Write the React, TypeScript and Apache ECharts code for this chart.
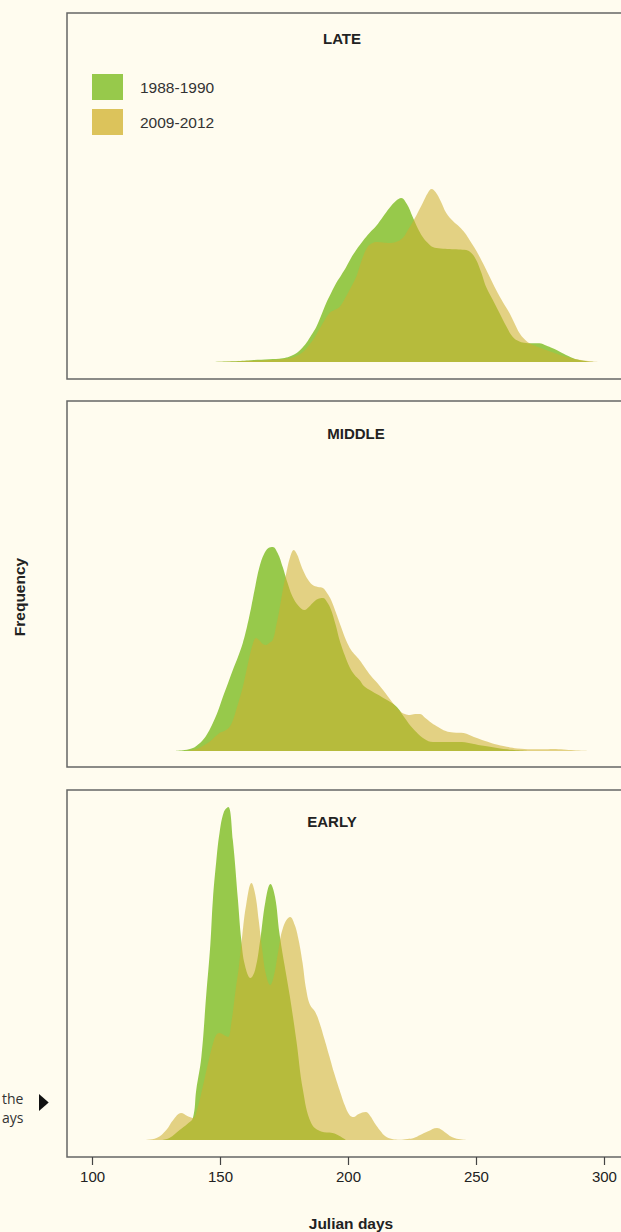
import { useEffect, useRef } from "react";
import * as echarts from "echarts";

type Pt = [number, number];

// Kernel-density curves of flowering date (Julian day, density x 1000)
const SERIES_NAMES = ["1988-1990", "2009-2012"];
const PANEL_TITLES = ["LATE", "MIDDLE", "EARLY"];
const DAY_TICKS = [100, 150, 200, 250, 300];

const late1988: Pt[] = [
  [146, 0], [155, 0.08], [162, 0.18], [169, 0.27], [174.3, 0.37], [177, 0.55], [179.6, 0.87],
  [181.5, 1.3], [183.5, 1.9], [185.5, 2.7], [187.4, 3.5], [189.4, 4.7], [191.3, 5.9], [193.2, 6.9],
  [195.2, 7.9], [197.2, 8.7], [199.1, 9.5], [201, 10.4], [203, 11.2], [205.6, 12.1], [208.2, 12.9],
  [210.8, 13.6], [213.4, 14.5], [216, 15.4], [218.5, 16.1], [220.6, 16.4], [222.8, 15.8],
  [225.1, 14.5], [227, 13.4], [229, 12.5], [231, 11.9], [232.9, 11.5], [236, 11.35], [239.5, 11.3],
  [243, 11.25], [246, 11.2], [248, 10.9], [249.9, 10.2], [251.8, 9.0], [253.8, 7.5], [256.4, 6.2],
  [259, 4.9], [261.6, 3.6], [264.2, 2.5], [266.8, 2.05], [269.4, 1.9], [272, 1.87], [274.6, 1.87],
  [277.2, 1.65], [279.8, 1.37], [282.4, 1.05], [285, 0.7], [287.6, 0.4], [290.2, 0.2], [293.5, 0.06],
  [297, 0],
];

const late2009: Pt[] = [
  [146, 0], [158, 0.08], [169, 0.2], [174, 0.28], [177, 0.37], [180, 0.65], [182.2, 1.0], [184, 1.5],
  [186.1, 2.2], [188, 3.0], [190, 3.9], [192.6, 4.9], [194.5, 5.2], [196.5, 5.5], [198.5, 6.3],
  [200.4, 7.2], [203, 8.5], [204.3, 9.5], [205.6, 10.5], [207, 11.3], [208.2, 11.7], [210.8, 12.0],
  [213.4, 11.95], [216, 11.9], [218.5, 12.0], [221.2, 12.4], [223, 13.1], [225.1, 14.0], [227, 14.9],
  [229, 15.9], [231, 16.9], [232.5, 17.3], [234, 17.0], [236, 16.1], [238.2, 14.9], [240.8, 14.1],
  [243.4, 13.5], [245.5, 12.9], [247.3, 12.2], [250, 11.1], [252.5, 9.9], [255, 8.6], [257.7, 7.2],
  [260.3, 6.0], [262.9, 4.9], [265, 3.8], [266.8, 2.9], [268.7, 2.3], [270.7, 1.87], [274, 1.5],
  [277.2, 1.2], [281, 0.85], [285, 0.53], [289, 0.28], [292.8, 0.13], [298, 0],
];

const middle1988: Pt[] = [
  [132, 0], [136, 0.1], [139.2, 0.3], [141, 0.6], [143.1, 1.1], [145, 1.8], [147, 2.8], [149, 4.0],
  [150.9, 5.4], [152.8, 6.7], [154.8, 8.1], [156.8, 9.4], [158.7, 10.8], [160.4, 12.5], [162, 14.4],
  [163.6, 16.5], [165.2, 18.4], [167, 19.7], [168.7, 20.3], [170.4, 20.4], [172.3, 19.8],
  [174.3, 18.4], [176.2, 16.8], [178.2, 15.4], [180.5, 14.5], [182.8, 14.1], [184.5, 14.4], [186, 14.8],
  [188, 15.2], [190, 15.3], [191.6, 14.9], [193.2, 14.1], [195, 12.6], [196.5, 11.1], [198.5, 9.6],
  [200.4, 8.4], [202.4, 7.6], [204.3, 7.1], [206, 6.5], [209, 6.0], [213, 5.4], [218.5, 4.5],
  [222, 3.3], [225, 2.3], [229.7, 1.2], [233, 0.9], [243, 0.9], [252, 0.55], [262, 0.17], [272, 0],
];

const middle2009: Pt[] = [
  [136.6, 0], [140.5, 0.2], [143, 0.5], [145.7, 0.93], [149.6, 1.8], [151.5, 2.0], [153.5, 2.4],
  [155, 3.2], [156.1, 4.1], [157.4, 5.2], [158.7, 6.4], [160, 7.9], [161.3, 9.4], [162.6, 10.7],
  [163.9, 11.3], [165, 11.1], [166.5, 10.7], [167.8, 10.6], [169, 10.8], [170.4, 11.1], [171.8, 12.6],
  [173, 14.1], [174.4, 16.2], [175.7, 17.8], [177.2, 19.4], [178.6, 20.1], [180, 19.6], [181, 18.9],
  [182.2, 18.1], [184, 17.2], [186, 16.6], [188, 16.4], [190, 16.3], [191.6, 15.8], [193.2, 15.1],
  [195, 13.9], [197.1, 12.4], [199, 11.1], [201, 10.1], [202.6, 9.6], [204.3, 9.1], [206.5, 8.3],
  [208.8, 7.5], [211.6, 6.7], [214.4, 5.8], [217, 4.9], [220, 4.0], [222, 3.7], [224, 3.6],
  [226, 3.7], [228, 3.7], [230, 3.3], [232.5, 2.8], [235, 2.4], [238, 2.0], [241, 1.85], [245, 1.8],
  [249, 1.4], [253.4, 1.0], [257, 0.7], [261.8, 0.43], [266, 0.25], [271.5, 0.17], [276, 0.17],
  [280, 0.2], [284, 0.15], [288, 0.07], [294, 0],
];

const early1988: Pt[] = [
  [127, 0], [130, 0.2], [134, 1.0], [137, 1.6], [139.2, 2.2], [140.5, 5.0], [142.5, 8.3],
  [144.4, 14.5], [146, 19.5], [147, 24.0], [148.3, 27.8], [149.6, 30.7], [151.3, 32.8], [153, 33.3],
  [154.8, 30.0], [156.8, 24.0], [158.1, 20.0], [159.5, 17.5], [161.7, 16.2], [163.5, 17.0],
  [165.5, 20.0], [167.5, 23.8], [169.5, 25.6], [171.3, 24.3], [173, 20.7], [175, 17.5], [177, 14.5],
  [179.6, 10.0], [182.2, 5.0], [185.4, 1.7], [189.3, 0.85], [193.8, 0.7], [196.5, 0.4], [199, 0],
];

const early2009: Pt[] = [
  [119.5, 0], [125, 0.2], [128.8, 1.0], [131.5, 2.0], [134.6, 2.7], [137, 2.4], [139.2, 2.2],
  [141, 3.2], [142.5, 4.7], [144, 6.4], [145.7, 8.3], [147, 9.6], [148.3, 10.5], [149.6, 10.7],
  [151.3, 10.5], [152.9, 10.3], [154.2, 11.7], [155.9, 15.0], [157.2, 17.4], [158.5, 20.5],
  [160, 23.5], [162.1, 25.7], [163.6, 24.5], [164.9, 22.0], [166.3, 19.0], [167.7, 16.6],
  [169.4, 15.5], [171, 16.6], [172.5, 18.8], [174.5, 21.3], [177.2, 22.3], [179, 21.5], [180.5, 20.0],
  [182, 17.8], [183.5, 15.0], [185, 13.5], [187, 12.8], [188.7, 11.7], [190.7, 10.0], [192.6, 8.3],
  [194.5, 6.6], [196.5, 5.0], [198.5, 3.5], [200.4, 2.5], [202, 2.3], [204, 2.6], [206.7, 2.8],
  [208.5, 2.4], [210.2, 1.7], [212.5, 0.9], [214.4, 0.37], [217, 0.1], [220, 0.03], [223, 0.1],
  [225.5, 0.2], [228, 0.5], [231.1, 0.87], [234.6, 1.2], [236.5, 1.0], [238.1, 0.7], [240, 0.35],
  [242.3, 0.13], [246.4, 0],
];

const PANEL_DATA: [Pt[], Pt[]][] = [
  [late1988, late2009],
  [middle1988, middle2009],
  [early1988, early2009],
];

// Layout and styling
const BG = "#FFFCEF";
const GREEN = "#97C94B";
const TAN = "#CEAF32";
const TAN_LEGEND = "#DCC35B";
const FONT = "'Liberation Sans', Arial, sans-serif";
const VIEW_W = 621;
const VIEW_H = 1232;
const CANVAS_W = 660; // wider than the view so the panels run off its right edge
const PANEL_BOXES = [
  { top: 13, height: 366, yMin: -1.7, yMax: 34.9, titleX: 342, titleY: 38 },
  { top: 401, height: 366, yMin: -1.6, yMax: 35.0, titleX: 356, titleY: 433 },
  { top: 790, height: 367, yMin: -1.7, yMax: 35.0, titleX: 332, titleY: 821 },
];

function buildOption(): echarts.EChartsOption {
  const series: any[] = [];
  PANEL_DATA.forEach(([older, newer], i) => {
    series.push({
      type: "line",
      name: SERIES_NAMES[0],
      xAxisIndex: i,
      yAxisIndex: i,
      data: older,
      smooth: 0.4,
      symbol: "none",
      showSymbol: false,
      silent: true,
      itemStyle: { color: GREEN },
      lineStyle: { width: 0, opacity: 0 },
      areaStyle: { color: GREEN, opacity: 1 },
      z: 2,
    });
    series.push({
      type: "line",
      name: SERIES_NAMES[1],
      xAxisIndex: i,
      yAxisIndex: i,
      data: newer,
      smooth: 0.4,
      symbol: "none",
      showSymbol: false,
      silent: true,
      itemStyle: { color: TAN_LEGEND },
      lineStyle: { width: 0, opacity: 0 },
      areaStyle: { color: TAN, opacity: 0.57 },
      z: 3,
    });
  });

  const titleTexts = PANEL_TITLES.map((t, i) => ({
    type: "text",
    x: PANEL_BOXES[i].titleX,
    y: PANEL_BOXES[i].titleY,
    style: {
      text: t,
      fontSize: 15,
      fontWeight: "bold",
      fontFamily: FONT,
      fill: "#222",
      align: "center",
      verticalAlign: "middle",
    },
  }));

  return {
    animation: false,
    backgroundColor: BG,
    grid: PANEL_BOXES.map((p) => ({
      left: 67,
      top: p.top,
      width: 563,
      height: p.height,
      show: true,
      borderColor: "#666",
      borderWidth: 1.5,
      backgroundColor: "transparent",
    })),
    xAxis: PANEL_BOXES.map((_, i) => ({
      type: "value",
      gridIndex: i,
      min: 90,
      max: 310,
      show: i === 2,
      position: "bottom",
      axisLine: { show: false, onZero: false },
      splitLine: { show: false },
      axisTick: {
        show: true,
        inside: false,
        customValues: DAY_TICKS,
        length: 8,
        lineStyle: { color: "#444", width: 1.2 },
      },
      axisLabel: {
        customValues: DAY_TICKS,
        fontSize: 15,
        color: "#222",
        margin: 12,
        fontFamily: FONT,
      },
    })),
    yAxis: PANEL_BOXES.map((p, i) => ({
      type: "value",
      gridIndex: i,
      min: p.yMin,
      max: p.yMax,
      show: false,
      splitLine: { show: false },
    })),
    legend: {
      orient: "vertical",
      left: 92,
      top: 74,
      padding: 0,
      itemWidth: 31,
      itemHeight: 26,
      itemGap: 9,
      icon: "rect",
      selectedMode: false,
      itemStyle: { borderWidth: 0 },
      textStyle: {
        fontSize: 15.5,
        color: "#333",
        fontFamily: FONT,
        padding: [0, 0, 0, 12],
      },
      data: [
        { name: SERIES_NAMES[0], itemStyle: { color: GREEN } },
        { name: SERIES_NAMES[1], itemStyle: { color: TAN_LEGEND } },
      ],
    },
    series,
    graphic: [
      ...titleTexts,
      {
        type: "text",
        x: 351,
        y: 1223,
        style: {
          text: "Julian days",
          fontSize: 15.5,
          fontWeight: "bold",
          fontFamily: FONT,
          fill: "#222",
          align: "center",
          verticalAlign: "middle",
        },
      },
      {
        type: "text",
        x: 19,
        y: 597,
        rotation: Math.PI / 2,
        style: {
          text: "Frequency",
          fontSize: 15.5,
          fontWeight: "bold",
          fontFamily: FONT,
          fill: "#222",
          align: "center",
          verticalAlign: "middle",
        },
      },
      {
        type: "text",
        x: 2,
        y: 1098,
        style: {
          text: "the",
          fontSize: 14,
          fontFamily: "'Open Sans', sans-serif",
          fill: "#333",
          align: "left",
          verticalAlign: "middle",
        },
      },
      {
        type: "text",
        x: 2,
        y: 1117,
        style: {
          text: "ays",
          fontSize: 14,
          fontFamily: "'Open Sans', sans-serif",
          fill: "#333",
          align: "left",
          verticalAlign: "middle",
        },
      },
      {
        type: "polygon",
        shape: { points: [[39, 1094], [48.7, 1102.5], [39, 1111]] },
        style: { fill: "#111" },
      },
    ],
  } as echarts.EChartsOption;
}

export default function App() {
  const ref = useRef<HTMLDivElement>(null);

  useEffect(() => {
    if (!ref.current) return;
    const chart = echarts.init(ref.current, undefined, { renderer: "svg" });
    chart.setOption(buildOption());
    return () => chart.dispose();
  }, []);

  return (
    <div
      style={{
        position: "fixed",
        left: 0,
        top: 0,
        width: VIEW_W,
        height: VIEW_H,
        overflow: "hidden",
        background: BG,
      }}
    >
      <div ref={ref} style={{ width: CANVAS_W, height: VIEW_H }} />
    </div>
  );
}
